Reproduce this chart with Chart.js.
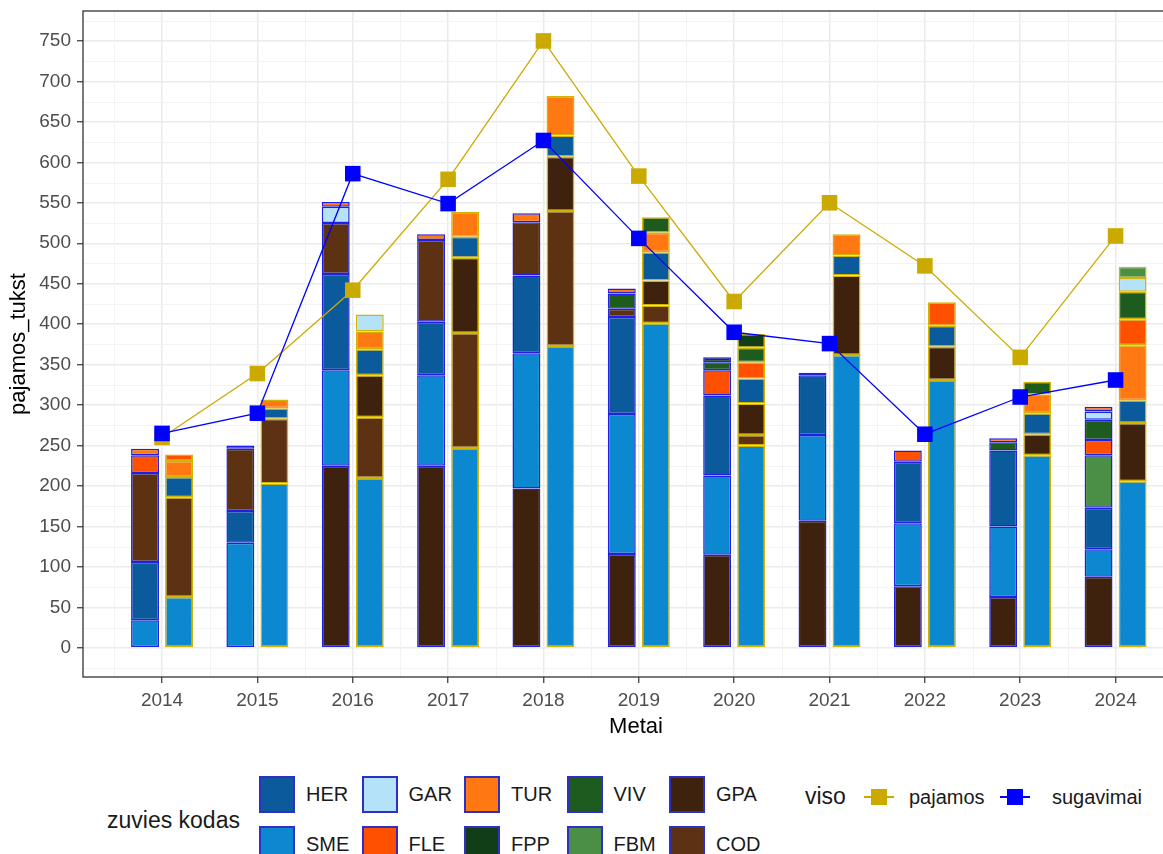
<!doctype html>
<html lang="lt">
<head>
<meta charset="utf-8">
<title>pajamos ir sugavimai</title>
<script src="https://cdn.jsdelivr.net/npm/chart.js@4.4.1/dist/chart.umd.min.js"></script>
<style>
  html, body { margin: 0; padding: 0; background: #fff; overflow: hidden; }
  body { font-family: "Liberation Sans", Arial, sans-serif; }
  #wrap { position: relative; width: 1200px; height: 854px; }
  #chartBox { position: absolute; left: 0; top: 0; width: 1200px; height: 745px; }
  .lg { position: absolute; white-space: nowrap; color: #1a1a1a; }
  .sw { position: absolute; width: 32px; height: 33px; border: 2px solid #2f2fc4; }
  .key { position: absolute; width: 30px; height: 2px; }
  .key i { position: absolute; left: 7px; top: -7px; width: 16px; height: 16px; }
</style>
</head>
<body>
<div id="wrap">
  <div id="chartBox"><canvas id="chart"></canvas></div>
  <div id="legend"></div>
</div>
<script>
// metai
var years = [2014, 2015, 2016, 2017, 2018, 2019, 2020, 2021, 2022, 2023, 2024];

// sugavimai pagal zuvies koda (kairysis stulpelis)
var sugGPA = [0, 0, 225, 225, 197, 116, 115, 157, 76, 63, 88];
var sugSME = [34, 130, 118, 112, 167, 173, 98, 106, 78, 87, 34];
var sugHER = [72, 39, 119, 66, 96, 120, 99, 74, 76, 94, 51];
var sugCOD = [110, 77, 63, 101, 66, 10, 0, 0, 0, 0, 0];
var sugFBM = [0, 0, 0, 0, 0, 0, 0, 0, 0, 0, 65];
var sugFLE = [22, 0, 0, 0, 0, 0, 31, 0, 14, 0, 19];
var sugVIV = [0, 0, 0, 0, 0, 19, 10, 0, 0, 10, 25];
var sugFPP = [0, 0, 0, 0, 0, 0, 6, 0, 0, 0, 0];
var sugGAR = [0, 0, 20, 0, 0, 0, 0, 0, 0, 0, 10];
var sugTUR = [8, 4, 6, 7, 11, 6, 0, 3, 0, 5, 6];

// pajamos pagal zuvies koda (desinysis stulpelis)
var pajSME = [63, 203, 210, 247, 373, 401, 250, 362, 331, 238, 206];
var pajCOD = [123, 80, 75, 142, 167, 22, 13, 0, 0, 0, 0];
var pajGPA = [0, 0, 52, 93, 67, 31, 39, 98, 41, 26, 72];
var pajHER = [25, 13, 32, 26, 26, 35, 31, 25, 26, 26, 28];
var pajTUR = [20, 11, 22, 31, 49, 24, 0, 26, 0, 23, 68];
var pajFLE = [8, 0, 0, 0, 0, 0, 20, 0, 29, 0, 32];
var pajVIV = [0, 0, 0, 0, 0, 19, 18, 0, 0, 16, 34];
var pajFPP = [0, 0, 0, 0, 0, 0, 17, 0, 0, 0, 0];
var pajGAR = [0, 0, 21, 0, 0, 0, 0, 0, 0, 0, 17];
var pajFBM = [0, 0, 0, 0, 0, 0, 0, 0, 0, 0, 14];

// viso
var visoPajamos = [260, 339, 442, 579, 750, 583, 428, 550, 472, 359, 509];
var visoSugavimai = [265, 290, 586, 549, 627, 506, 390, 376, 264, 310, 331];

var yTicks = [0, 50, 100, 150, 200, 250, 300, 350, 400, 450, 500, 550, 600, 650, 700, 750];

var fishColors = {
  HER: '#0b5a9c', SME: '#0b88cf', GAR: '#b4e2f8', FLE: '#ff5000', TUR: '#ff7812',
  VIV: '#1e5b1e', FPP: '#113e17', FBM: '#4b8e46', GPA: '#3f220e', COD: '#5d3213'
};
var pajColor = '#cbaa00';
var sugColor = '#0000ff';

// stacking order differs between the two columns (bottom first)
var sugStack = [['GPA', sugGPA], ['SME', sugSME], ['HER', sugHER], ['COD', sugCOD], ['FBM', sugFBM],
                ['FLE', sugFLE], ['VIV', sugVIV], ['FPP', sugFPP], ['GAR', sugGAR], ['TUR', sugTUR]];
var pajStack = [['SME', pajSME], ['COD', pajCOD], ['GPA', pajGPA], ['HER', pajHER], ['TUR', pajTUR],
                ['FLE', pajFLE], ['VIV', pajVIV], ['FPP', pajFPP], ['GAR', pajGAR], ['FBM', pajFBM]];

function pts(arr) {
  return years.map(function (yr, i) { return { x: yr, y: arr[i] }; });
}

var datasets = [];
// lines first so they sit on top
datasets.push({
  type: 'line', label: 'sugavimai', stack: 'ls', order: 0,
  data: pts(visoSugavimai), borderColor: sugColor, backgroundColor: sugColor,
  borderWidth: 1.3, pointStyle: 'rect', pointRadius: 11, pointBorderWidth: 0,
  pointBackgroundColor: sugColor
});
datasets.push({
  type: 'line', label: 'pajamos', stack: 'lp', order: 1,
  data: pts(visoPajamos), borderColor: pajColor, backgroundColor: pajColor,
  borderWidth: 1.3, pointStyle: 'rect', pointRadius: 11, pointBorderWidth: 0,
  pointBackgroundColor: pajColor
});
sugStack.forEach(function (s) {
  datasets.push({
    label: s[0], stack: 'sug', order: 2, data: pts(s[1]),
    backgroundColor: fishColors[s[0]], borderColor: '#1f1fe6', borderWidth: 1.5, borderSkipped: false
  });
});
pajStack.forEach(function (s) {
  datasets.push({
    label: s[0], stack: 'paj', order: 2, data: pts(s[1]),
    backgroundColor: fishColors[s[0]], borderColor: '#d1b300', borderWidth: 1.5, borderSkipped: false
  });
});

// minor grid lines + panel border (ggplot theme_bw look)
var panelPlugin = {
  id: 'panel',
  beforeDatasetsDraw: function (chart) {
    var ctx = chart.ctx, a = chart.chartArea, x = chart.scales.x, y = chart.scales.y;
    ctx.save();
    ctx.strokeStyle = '#f3f3f3';
    ctx.lineWidth = 1;
    ctx.beginPath();
    for (var v = years[0] - 0.5; v <= years[years.length - 1] + 0.5; v += 1) {
      var px = Math.round(x.getPixelForValue(v)) + 0.5;
      ctx.moveTo(px, a.top); ctx.lineTo(px, a.bottom);
    }
    for (var w = -25; w <= 775; w += 50) {
      var py = Math.round(y.getPixelForValue(w)) + 0.5;
      ctx.moveTo(a.left, py); ctx.lineTo(a.right, py);
    }
    ctx.stroke();
    ctx.restore();
  },
  afterDatasetsDraw: function (chart) {
    var ctx = chart.ctx, a = chart.chartArea;
    ctx.save();
    ctx.strokeStyle = '#333333';
    ctx.lineWidth = 1.3;
    ctx.strokeRect(a.left, a.top, a.right - a.left, a.bottom - a.top);
    ctx.restore();
  }
};

var tickFont = { family: '"Liberation Sans", Arial, sans-serif', size: 19 };
var titleFont = { family: '"Liberation Sans", Arial, sans-serif', size: 22 };

new Chart(document.getElementById('chart'), {
  type: 'bar',
  data: { datasets: datasets },
  plugins: [panelPlugin],
  options: {
    responsive: true,
    maintainAspectRatio: false,
    animation: false,
    layout: { padding: { top: 10, right: 6, left: 0, bottom: 0 } },
    categoryPercentage: 0.714,
    barPercentage: 0.82,
    plugins: { legend: { display: false }, tooltip: { enabled: false } },
    scales: {
      x: {
        type: 'linear', stacked: true, offset: false,
        min: 2013.171, max: 2024.77,
        afterBuildTicks: function (s) { s.ticks = years.map(function (v) { return { value: v }; }); },
        afterFit: function (s) { s.height = 68; s.paddingLeft = 0; s.paddingRight = 0; },
        ticks: { color: '#4d4d4d', font: tickFont, padding: 6, maxRotation: 0,
                 callback: function (v) { return String(v); } },
        grid: { offset: false, color: '#ebebeb', lineWidth: 1.5, tickColor: '#333333', tickLength: 6, tickWidth: 1.2 },
        border: { display: false },
        title: { display: true, text: 'Metai', color: '#000', font: titleFont, padding: { top: 0, bottom: 5 } }
      },
      y: {
        type: 'linear', stacked: true,
        min: -36, max: 787,
        afterBuildTicks: function (s) { s.ticks = yTicks.map(function (v) { return { value: v }; }); },
        afterFit: function (s) { s.width = 83; s.paddingTop = 0; s.paddingBottom = 0; },
        ticks: { color: '#4d4d4d', font: tickFont, padding: 6 },
        grid: { color: '#ebebeb', lineWidth: 1.5, tickColor: '#333333', tickLength: 6, tickWidth: 1.2 },
        border: { display: false },
        title: { display: true, text: 'pajamos_tukst', color: '#000', font: titleFont, padding: { top: 6, bottom: 0 } }
      }
    }
  }
});

// legend below the plot
var legend = document.getElementById('legend');
function addText(txt, left, centerY, size) {
  var d = document.createElement('div');
  d.className = 'lg';
  d.textContent = txt;
  d.style.left = left + 'px';
  d.style.top = (centerY - size * 0.6) + 'px';
  d.style.fontSize = size + 'px';
  d.style.lineHeight = (size * 1.2) + 'px';
  legend.appendChild(d);
}
addText('zuvies kodas', 107, 821, 23);
var legendOrder = ['HER', 'SME', 'GAR', 'FLE', 'TUR', 'FPP', 'VIV', 'FBM', 'GPA', 'COD'];
legendOrder.forEach(function (code, i) {
  var col = Math.floor(i / 2), row = i % 2;
  var left = 259 + col * 102.5, top = 776 + row * 50;
  var sw = document.createElement('div');
  sw.className = 'sw';
  sw.style.left = left + 'px';
  sw.style.top = top + 'px';
  sw.style.background = fishColors[code];
  legend.appendChild(sw);
  addText(code, left + 47, top + 18, 20);
});
addText('viso', 805, 797, 23);
[['pajamos', pajColor, 864, 909], ['sugavimai', sugColor, 1000, 1052]].forEach(function (k) {
  var d = document.createElement('div');
  d.className = 'key';
  d.style.left = k[2] + 'px';
  d.style.top = '796px';
  d.style.background = k[1];
  var sq = document.createElement('i');
  sq.style.background = k[1];
  d.appendChild(sq);
  legend.appendChild(d);
  addText(k[0], k[3], 797, 20);
});
</script>
</body>
</html>
